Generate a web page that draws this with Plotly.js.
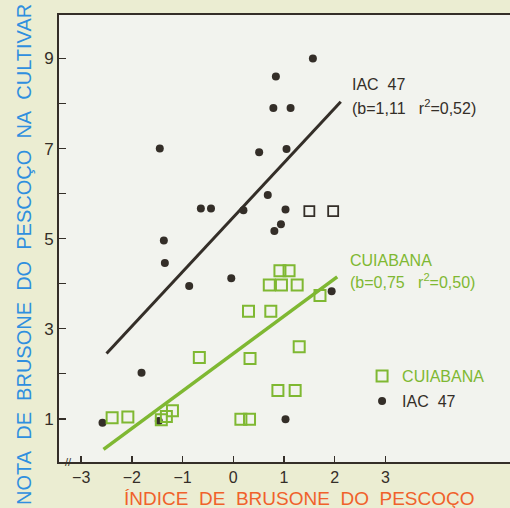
<!DOCTYPE html>
<html>
<head>
<meta charset="utf-8">
<script src="https://cdn.plot.ly/plotly-3.0.1.min.js"></script>
<style>html,body{margin:0;padding:0;background:#ebedd2;}#chart{width:510px;height:508px;}</style>
</head>
<body>
<div id="chart"></div>
<script>
// IAC 47 (filled dark circles)
const iacX = [-1.45, 1.57, 0.84, 0.79, 1.13, 0.51, 1.05, -0.64, -0.44, -1.37, -1.35, -0.87, -0.04, 0.68, 0.20, 1.03, 0.94, 0.81, 1.94, -1.81, -2.58, -1.47, 1.03];
const iacY = [7.00, 9.00, 8.60, 7.90, 7.90, 6.92, 6.99, 5.67, 5.67, 4.96, 4.46, 3.95, 4.12, 5.97, 5.63, 5.65, 5.32, 5.17, 3.83, 2.02, 0.91, 0.95, 0.99];
// CUIABANA (open green squares)
const cuiX = [-2.39, -2.08, -1.42, -1.32, -1.20, -0.67, 0.33, 1.30, 0.88, 1.22, 0.15, 0.32, 0.92, 1.10, 0.71, 0.95, 1.26, 0.30, 0.74, 1.71];
const cuiY = [1.02, 1.04, 0.98, 1.05, 1.18, 2.36, 2.34, 2.60, 1.63, 1.63, 0.99, 0.99, 4.29, 4.29, 3.97, 3.97, 3.97, 3.39, 3.39, 3.74];
// squares printed in dark ink
const darkSqX = [1.50, 1.97];
const darkSqY = [5.61, 5.61];
// regression lines as drawn
const iacLineX = [-2.50, 2.12];
const iacLineY = [2.45, 8.04];
const cuiLineX = [-2.56, 2.05];
const cuiLineY = [0.32, 4.15];
// ticks
const xTicks = [-3, -2, -1, 0, 1, 2, 3];
const xTickText = ['\u22123', '\u22122', '\u22121', '0', '1', '2', '3'];
const yTicks = [1, 3, 5, 7, 9];
const yTickText = ['1', '3', '5', '7', '9'];

const DARK = '#342e28';
const GREEN = '#7fb832';
const FONT = 'Liberation Sans, Arial, sans-serif';

const traces = [
  {x: iacLineX, y: iacLineY, mode: 'lines', line: {color: DARK, width: 3}, showlegend: false, hoverinfo: 'skip'},
  {x: cuiLineX, y: cuiLineY, mode: 'lines', line: {color: GREEN, width: 3.5}, showlegend: false, hoverinfo: 'skip'},
  {x: iacX, y: iacY, mode: 'markers', name: '<span style="color:' + DARK + '">IAC\u00a0\u00a047</span>',
   legendgroup: 'i', legendrank: 2,
   marker: {symbol: 'circle', size: 8, color: DARK}},
  {x: darkSqX, y: darkSqY, mode: 'markers', showlegend: false,
   marker: {symbol: 'square-open', size: 10, color: DARK, line: {width: 1.8}}},
  {x: cuiX, y: cuiY, mode: 'markers', name: '<span style="color:' + GREEN + '">CUIABANA</span>',
   legendgroup: 'c', legendrank: 1,
   marker: {symbol: 'square-open', size: 11, color: GREEN, line: {width: 2}}}
];

const layout = {
  width: 510, height: 508,
  paper_bgcolor: '#ebedd2',
  plot_bgcolor: '#f2f3ee',
  margin: {l: 59, r: 0, t: 15, b: 46},
  font: {family: FONT, color: DARK, size: 16},
  showlegend: true,
  legend: {x: 0.672, xanchor: 'left', y: 0.23, yanchor: 'top', bgcolor: 'rgba(0,0,0,0)',
           font: {size: 16, family: FONT}, traceorder: 'grouped', tracegroupgap: 1},
  xaxis: {range: [-3.438, 5.458], tickvals: xTicks, ticktext: xTickText, ticks: 'inside', ticklen: 6,
          tickwidth: 1.5, tickcolor: DARK, showline: true, linecolor: DARK, linewidth: 2, mirror: true,
          showgrid: false, zeroline: false, tickfont: {size: 16, color: DARK}},
  yaxis: {range: [0.04, 9.967], tickvals: yTicks, ticktext: yTickText, ticks: 'inside', ticklen: 7,
          tickwidth: 1.5, tickcolor: DARK, showline: true, linecolor: DARK, linewidth: 2,
          minor: {tick0: 0, dtick: 1, ticks: 'inside', ticklen: 7, tickwidth: 1.5, tickcolor: DARK, showgrid: false},
          showgrid: false, zeroline: false, tickfont: {size: 17, color: DARK}},
  annotations: [
    {xref: 'x', yref: 'y', x: 2.30, y: 8.43, xanchor: 'left', yanchor: 'middle', showarrow: false,
     text: 'IAC\u00a0\u00a047', font: {size: 16, color: DARK}},
    {xref: 'x', yref: 'y', x: 2.30, y: 7.92, xanchor: 'left', yanchor: 'middle', showarrow: false,
     text: '(b=1,11\u00a0\u00a0\u00a0r<sup>2</sup>=0,52)', font: {size: 16, color: DARK}},
    {xref: 'x', yref: 'y', x: 2.26, y: 4.52, xanchor: 'left', yanchor: 'middle', showarrow: false,
     text: 'CUIABANA', font: {size: 16, color: GREEN}},
    {xref: 'x', yref: 'y', x: 2.26, y: 4.06, xanchor: 'left', yanchor: 'middle', showarrow: false,
     text: '(b=0,75\u00a0\u00a0\u00a0r<sup>2</sup>=0,50)', font: {size: 16, color: GREEN}},
    {xref: 'paper', yref: 'paper', x: 0.534, y: -0.082, xanchor: 'center', yanchor: 'middle', showarrow: false,
     text: '\u00cdNDICE\u00a0 DE\u00a0 BRUSONE\u00a0 DO\u00a0 PESCO\u00c7O', font: {size: 19, color: '#f0612b'}},
    {xref: 'paper', yref: 'paper', x: -0.078, y: 0.465, xanchor: 'center', yanchor: 'middle', showarrow: false,
     textangle: -90, text: 'NOTA\u00a0 DE\u00a0 BRUSONE\u00a0 DO\u00a0 PESCO\u00c7O\u00a0 NA\u00a0 CULTIVAR', font: {size: 20, color: '#2f8fdf'}},
    {xref: 'paper', yref: 'paper', x: 0.022, y: 0.0, xanchor: 'center', yanchor: 'middle', showarrow: false,
     text: '//', font: {size: 11, color: DARK}}
  ]
};

Plotly.newPlot('chart', traces, layout, {displayModeBar: false, staticPlot: true});
</script>
</body>
</html>
